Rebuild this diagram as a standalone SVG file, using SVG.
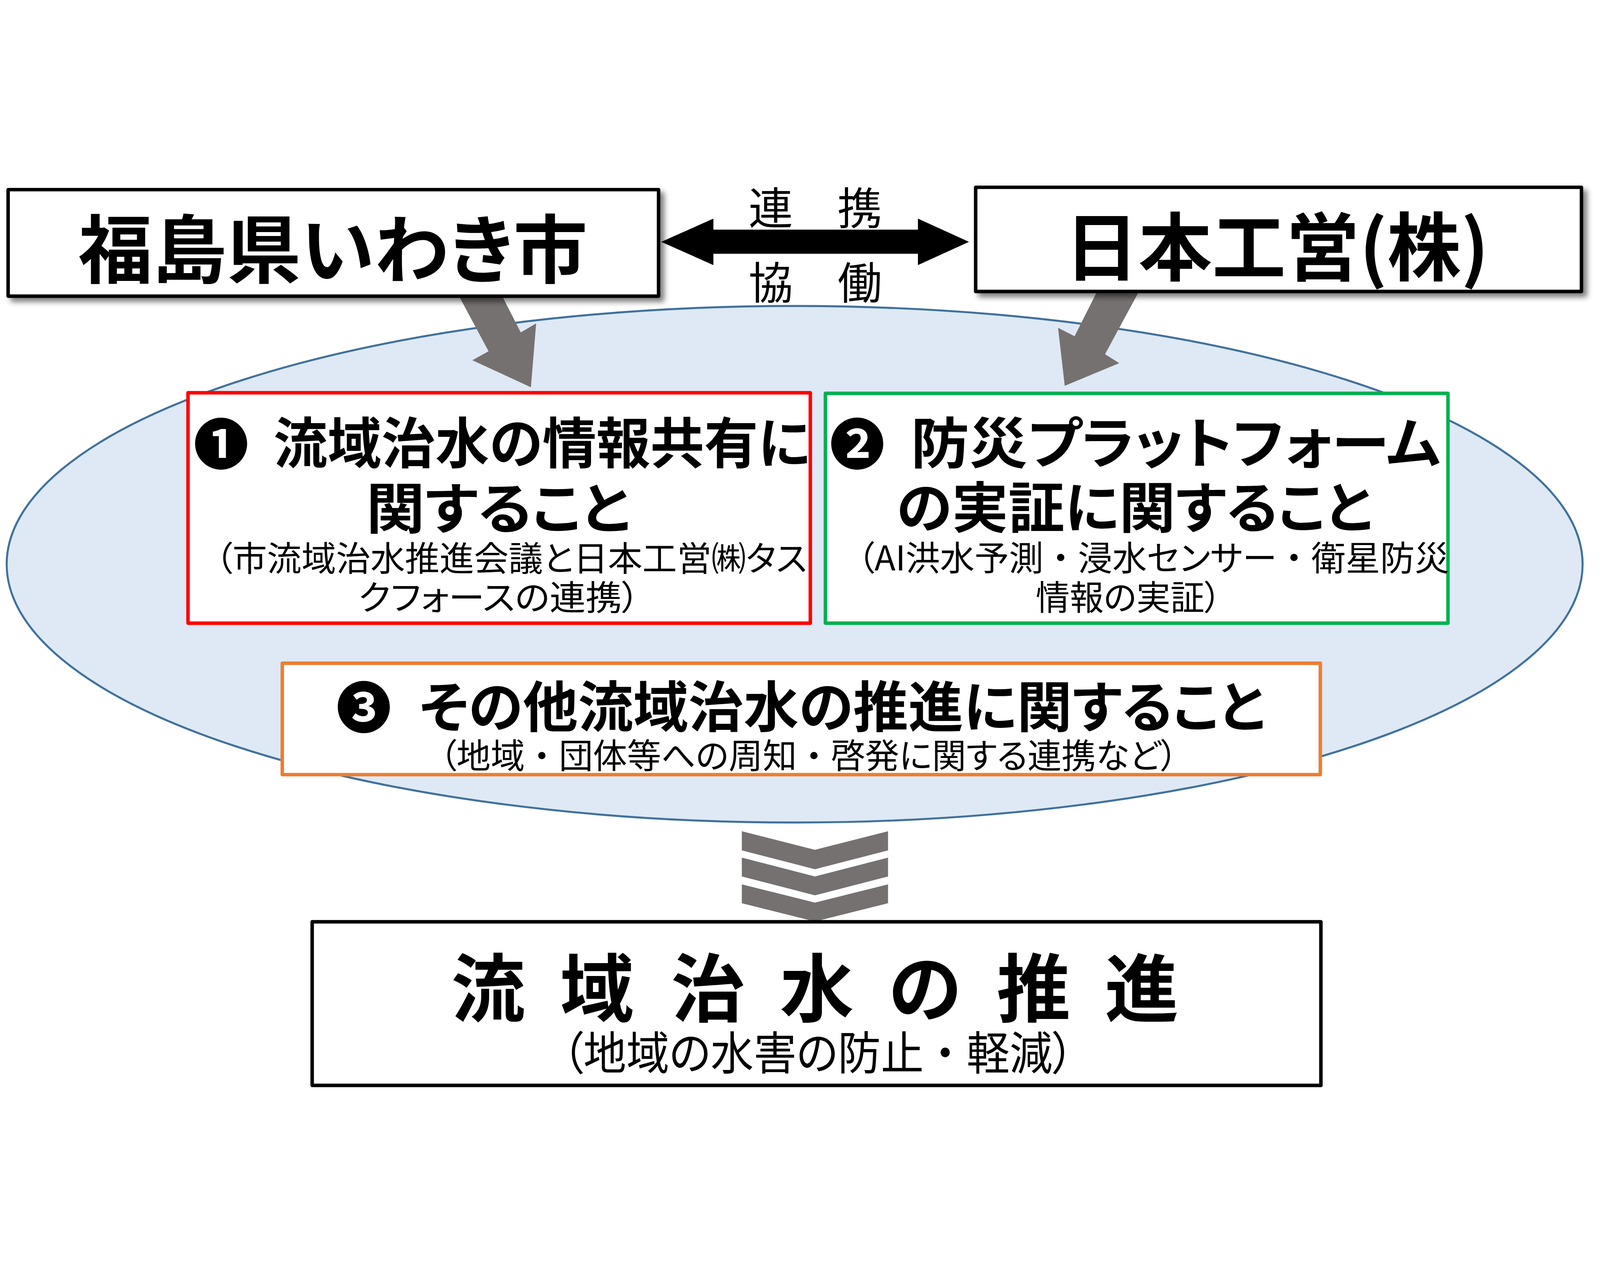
<svg xmlns="http://www.w3.org/2000/svg" width="5515" height="3230" viewBox="0 0 5515 3230" style="width:100vw;height:100vh;display:block">
<defs>
<filter id="sh" x="-5%" y="-10%" width="115%" height="130%">
<feDropShadow dx="14" dy="14" stdDeviation="9" flood-color="#000" flood-opacity="0.5"/>
</filter>
</defs>
<style>
text{font-family:"Noto Sans CJK JP","Noto Sans",sans-serif;fill:#000;dominant-baseline:central;font-feature-settings:"palt"}
.fw{font-feature-settings:normal}
.b{font-weight:bold}
.n{font-weight:normal}
.box{fill:#fff;stroke-width:12;stroke-linejoin:round}
.gray{fill:#767171}
</style>
<rect width="5515" height="3230" fill="#fff"/>
<g id="ellipse">
<ellipse cx="2739" cy="1385" rx="2716" ry="890" fill="#DEE9F5" stroke="#41719C" stroke-width="7"/>
</g>
<g id="connectors">
<polygon class="gray" points="1579,455 1728,455 1795,586 1848,555 1830,775 1628,682 1684,651"/>
<polygon class="gray" points="3779,450 3923,450 3809,661 3858,692 3670,770 3647,570 3704,599"/>
<polygon fill="#000" points="2279,274 2459,194 2459,232 3164,232 3164,194 3340,274 3164,354 3164,315 2459,315 2459,354"/>
<g id="chevrons" class="gray">
<polygon points="2557,2305 2809,2369 3061,2305 3061,2371 2809,2436 2557,2371"/>
<polygon points="2557,2396 2809,2461 3061,2396 3061,2461 2809,2526 2557,2461"/>
<polygon points="2557,2488 2809,2551 3061,2488 3061,2553 2809,2616 2557,2553"/>
</g>
</g>
<g id="label-renkei">
<text class="n" x="2580" y="147" font-size="152" textLength="460" lengthAdjust="spacingAndGlyphs">連　携</text>
<text class="n" x="2580" y="405" font-size="152" textLength="460" lengthAdjust="spacingAndGlyphs">協　働</text>
</g>
<g id="iwaki">
<rect class="box" x="28" y="94" width="2242" height="367" stroke="#000" filter="url(#sh)"/>
<text class="b" x="270" y="284" font-size="255" textLength="1755" lengthAdjust="spacingAndGlyphs">福島県いわき市</text>
</g>
<g id="nihonkoei">
<rect class="box" x="3363" y="86" width="2088" height="359" stroke="#000" filter="url(#sh)"/>
<text class="b" x="3670" y="276" font-size="255" textLength="1462" lengthAdjust="spacingAndGlyphs">日本工営(株)</text>
</g>
<g id="item1">
<rect class="box" x="648" y="794" width="2145" height="794" stroke="#FF0000"/>
<text class="b" x="762" y="958" font-size="190" text-anchor="middle">❶</text>
<text class="b" x="943" y="955" font-size="190" textLength="1850" lengthAdjust="spacingAndGlyphs">流域治水の情報共有に</text>
<text class="b" x="1262" y="1180" font-size="190" textLength="910" lengthAdjust="spacingAndGlyphs">関すること</text>
<text class="n" x="742" y="1356" font-size="118" textLength="2040" lengthAdjust="spacingAndGlyphs">（市流域治水推進会議と日本工営㈱タス</text>
<text class="n" x="1235" y="1491" font-size="118" textLength="970" lengthAdjust="spacingAndGlyphs">クフォースの連携）</text>
</g>
<g id="item2">
<rect class="box" x="2845" y="796" width="2146" height="792" stroke="#00B050"/>
<text class="b" x="2955" y="958" font-size="190" text-anchor="middle">❷</text>
<text class="b" x="3140" y="955" font-size="190" textLength="1825" lengthAdjust="spacingAndGlyphs">防災プラットフォーム</text>
<text class="b" x="3090" y="1177" font-size="190" textLength="1640" lengthAdjust="spacingAndGlyphs">の実証に関すること</text>
<text class="n" x="2955" y="1354" font-size="118" textLength="2040" lengthAdjust="spacingAndGlyphs">（AI洪水予測<tspan class="fw">・</tspan>浸水センサー<tspan class="fw">・</tspan>衛星防災</text>
<text class="n" x="3570" y="1491" font-size="118" textLength="640" lengthAdjust="spacingAndGlyphs">情報の実証）</text>
</g>
<g id="item3">
<rect class="box" x="973" y="1726" width="3578" height="384" stroke="#ED7D31"/>
<text class="b" x="1254" y="1866" font-size="190" text-anchor="middle">❸</text>
<text class="b" x="1445" y="1864" font-size="190" textLength="2915" lengthAdjust="spacingAndGlyphs">その他流域治水の推進に関すること</text>
<text class="n" x="1515" y="2036" font-size="118" textLength="2545" lengthAdjust="spacingAndGlyphs">（地域<tspan class="fw">・</tspan>団体等への周知<tspan class="fw">・</tspan>啓発に関する連携など）</text>
</g>
<g id="result">
<rect class="box" x="1076" y="2617" width="3477" height="564" stroke="#000"/>
<text class="b" x="1555 1930 2313 2688 3062 3435 3808" y="2830" font-size="255">流域治水の推進</text>
<text class="n" x="1937" y="3059" font-size="158" textLength="1765" lengthAdjust="spacingAndGlyphs">（地域の水害の防止<tspan class="fw">・</tspan>軽減）</text>
</g>
</svg>
